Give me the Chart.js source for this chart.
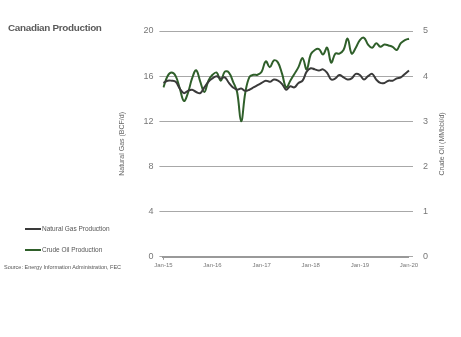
<!DOCTYPE html>
<html>
<head>
<meta charset="utf-8">
<script src="https://cdn.jsdelivr.net/npm/chart.js@4"></script>
<style>
  body { margin: 0; background: #fff; font-family: "Liberation Sans", Arial, sans-serif; }
  #wrap { position: relative; width: 461px; height: 337px; }
  #box { position: absolute; left: 0; top: 0; width: 461px; height: 280px; }
  .title { position: absolute; left: 8px; top: 22px; font-size: 9.9px; font-weight: bold; color: #5a5a5a; letter-spacing: -0.3px; }
  .leg { position: absolute; left: 25px; font-size: 6.5px; color: #555; }
  .leg span { display: inline-block; width: 16px; height: 2px; vertical-align: middle; margin-right: 1px; }
  .src { position: absolute; left: 4px; top: 264px; font-size: 5.5px; color: #555; }
</style>
</head>
<body>
<div id="wrap">
  <div id="box"><canvas id="prodChart"></canvas></div>
  <div class="title">Canadian Production</div>
  <div class="leg" style="top:225px"><span style="background:#3a3a3a"></span>Natural Gas Production</div>
  <div class="leg" style="top:246px"><span style="background:#2f5f2a"></span>Crude Oil Production</div>
  <div class="src">Source: Energy Information Administration, FEC</div>
</div>
<script>
// month categories Jan-15 .. Jan-20
const years = ["15", "16", "17", "18", "19", "20"];
const monthNames = ["Jan", "Feb", "Mar", "Apr", "May", "Jun", "Jul", "Aug", "Sep", "Oct", "Nov", "Dec"];
const months = [];
years.forEach(y => monthNames.forEach(m => months.push(m + "-" + y)));
months.length = 61;

// BCF/d
const gasProduction = [
  15.4, 15.6, 15.6, 15.5, 14.9, 14.5, 14.7, 14.8, 14.6, 14.5, 15.0, 15.5,
  15.8, 16.0, 15.8, 15.9, 15.4, 15.0, 14.8, 14.9, 14.7, 14.8, 15.0, 15.2,
  15.4, 15.6, 15.5, 15.7, 15.6, 15.3, 14.8, 15.1, 15.0, 15.4, 15.6, 16.4,
  16.7, 16.6, 16.5, 16.6, 16.3, 15.7, 15.8, 16.1, 15.9, 15.7, 15.8, 16.2,
  16.1, 15.7, 16.0, 16.2, 15.7, 15.4, 15.4, 15.6, 15.6, 15.8, 15.9, 16.2,
  16.5
];

// MMbbl/d
const oilProduction = [
  3.75, 4.00, 4.08, 4.00, 3.73, 3.45, 3.63, 3.95, 4.13, 3.88, 3.65, 3.90,
  4.03, 4.08, 3.90, 4.10, 4.08, 3.88, 3.65, 3.00, 3.63, 3.98, 4.03, 4.03,
  4.10, 4.33, 4.20, 4.35, 4.30, 4.05, 3.75, 3.90, 4.05, 4.20, 4.40, 4.15,
  4.48, 4.58, 4.60, 4.48, 4.63, 4.30, 4.50, 4.50, 4.58, 4.83, 4.50, 4.63,
  4.80, 4.85, 4.70, 4.63, 4.73, 4.65, 4.70, 4.68, 4.65, 4.58, 4.73, 4.80,
  4.83
];

const gasTicks = [0, 4, 8, 12, 16, 20];
const oilTicks = [0, 1, 2, 3, 4, 5];

const gridGray = "#a8a8a8";
const tickGray = "#777";

// right axis title, reading bottom to top like the left one
const rightTitle = {
  id: "rightTitle",
  afterDraw(chart) {
    const { ctx, chartArea } = chart;
    ctx.save();
    ctx.translate(chartArea.right + 33, (chartArea.top + chartArea.bottom) / 2);
    ctx.rotate(-Math.PI / 2);
    ctx.font = "7px 'Liberation Sans', Arial, sans-serif";
    ctx.fillStyle = "#666";
    ctx.textAlign = "center";
    ctx.textBaseline = "middle";
    ctx.fillText("Crude Oil (MMbbl/d)", 0, 0);
    ctx.restore();
  }
};

new Chart(document.getElementById("prodChart"), {
  type: "line",
  data: {
    labels: months,
    datasets: [{
      label: "Natural Gas Production",
      data: gasProduction,
      borderColor: "#3a3a3a",
      backgroundColor: "#3a3a3a",
      borderWidth: 2,
      yAxisID: "y"
    }, {
      label: "Crude Oil Production",
      data: oilProduction,
      borderColor: "#2f5f2a",
      backgroundColor: "#2f5f2a",
      borderWidth: 2,
      yAxisID: "y1"
    }]
  },
  options: {
    responsive: true,
    maintainAspectRatio: false,
    animation: false,
    elements: { point: { radius: 0 }, line: { tension: 0.4 } },
    layout: { padding: { top: 31, left: 118, right: 23, bottom: 9 } },
    plugins: { legend: { display: false }, tooltip: { enabled: false } },
    scales: {
      x: {
        offset: false,
        border: { color: "#999", width: 2 },
        grid: {
          drawOnChartArea: false,
          tickLength: 3,
          color: ctx => (ctx.index % 12 === 0 ? "#999" : "rgba(0,0,0,0)")
        },
        ticks: {
          autoSkip: false,
          maxRotation: 0,
          padding: 2,
          color: tickGray,
          font: { size: 6 },
          callback: function (v, i) { return i % 12 === 0 ? this.getLabelForValue(v) : null; }
        }
      },
      y: {
        position: "left",
        min: 0, max: 20,
        afterBuildTicks: s => { s.ticks = gasTicks.map(v => ({ value: v })); },
        border: { display: false },
        grid: { color: gridGray, tickLength: 4 },
        ticks: { padding: 6, color: tickGray, font: { size: 9 } },
        title: {
          display: true,
          text: "Natural Gas (BCF/d)",
          color: "#666",
          font: { size: 7 },
          padding: { top: 0, bottom: 11 }
        }
      },
      y1: {
        position: "right",
        min: 0, max: 5,
        afterBuildTicks: s => { s.ticks = oilTicks.map(v => ({ value: v })); },
        border: { display: false },
        grid: { drawOnChartArea: false, color: gridGray, tickLength: 4 },
        ticks: { padding: 10, color: tickGray, font: { size: 9 } }
      }
    }
  },
  plugins: [rightTitle]
});
</script>
</body>
</html>
